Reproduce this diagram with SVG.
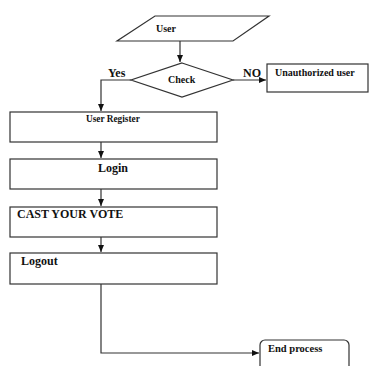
<svg xmlns="http://www.w3.org/2000/svg" width="370" height="366" viewBox="0 0 370 366">
<style>
.s{fill:#fff;stroke:#333;stroke-width:1.2}
.c{fill:none;stroke:#333;stroke-width:1.2}
text{font-family:"Liberation Serif","Times New Roman",serif;font-weight:bold;fill:#111}
</style>
<defs>
<marker id="a" markerWidth="8" markerHeight="8" refX="7" refY="4" orient="auto" markerUnits="userSpaceOnUse">
<path d="M0,1 L7,4 L0,7 Z" fill="#111"/>
</marker>
</defs>
<rect width="370" height="366" fill="#fff"/>
<g id="connectors">
<line class="c" x1="180" y1="41" x2="180" y2="62" marker-end="url(#a)"/>
<polyline class="c" points="131,80 101,80 101,111" marker-end="url(#a)"/>
<line class="c" x1="233" y1="80" x2="266" y2="80" marker-end="url(#a)"/>
<line class="c" x1="101" y1="142" x2="101" y2="158" marker-end="url(#a)"/>
<line class="c" x1="101" y1="189" x2="101" y2="206" marker-end="url(#a)"/>
<line class="c" x1="101" y1="237" x2="101" y2="252" marker-end="url(#a)"/>
<polyline class="c" points="101,284 101,353 259,353" marker-end="url(#a)"/>
<text x="108" y="77" font-size="12">Yes</text>
<text x="243" y="77" font-size="12">NO</text>
</g>
<g id="user">
<polygon class="s" points="155,16 269,16 233,41 117,41"/>
<text x="156" y="32" font-size="10">User</text>
</g>
<g id="check">
<polygon class="s" points="182,63 233,80 182,97 131,80"/>
<text x="168" y="83" font-size="10">Check</text>
</g>
<g id="unauthorized">
<rect class="s" x="267" y="64" width="101" height="28"/>
<text x="275" y="76" font-size="10">Unauthorized user</text>
</g>
<g id="register">
<rect class="s" x="10" y="112" width="207" height="30"/>
<text x="86" y="122" font-size="9.3">User Register</text>
</g>
<g id="login">
<rect class="s" x="10" y="159" width="207" height="30"/>
<text x="98" y="172" font-size="12">Login</text>
</g>
<g id="vote">
<rect class="s" x="10" y="207" width="207" height="30"/>
<text x="17" y="218" font-size="12">CAST YOUR VOTE</text>
</g>
<g id="logout">
<rect class="s" x="10" y="253" width="207" height="31"/>
<text x="21" y="265" font-size="12">Logout</text>
</g>
<g id="end">
<rect class="s" x="260" y="340" width="89" height="40" rx="5"/>
<text x="268" y="352" font-size="10.5">End process</text>
</g>
</svg>
